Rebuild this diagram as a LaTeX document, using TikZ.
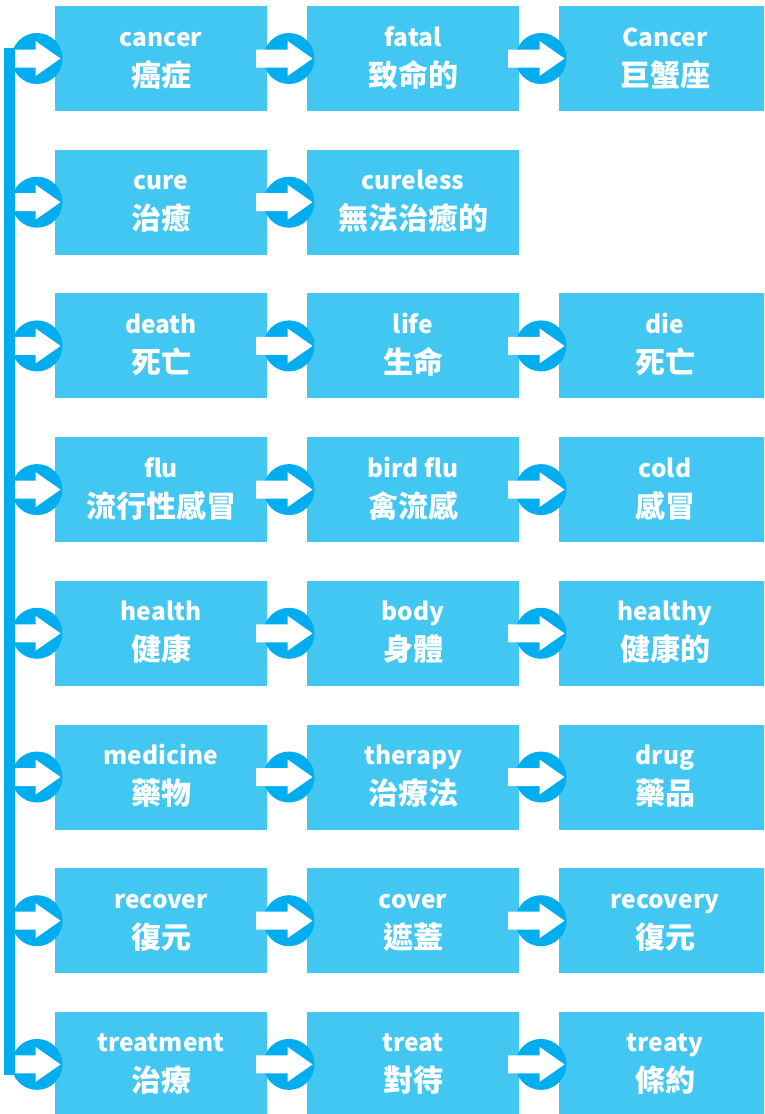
\documentclass[tikz,border=0pt]{standalone}
\usepackage{fontspec}
\setmainfont{Noto Sans CJK TC}
\usetikzlibrary{calc}

\definecolor{boxblue}{RGB}{66,199,242}
\definecolor{ringblue}{RGB}{0,173,239}

\tikzset{
    wordbox/.style={fill=boxblue, minimum width=212pt, minimum height=105pt, inner sep=0pt, outer sep=0pt},
    entext/.style={anchor=base, text=white, inner sep=0pt, font=\bfseries\fontsize{24.5}{24.5}\selectfont},
    zhtext/.style={anchor=base, text=white, inner sep=0pt, font=\bfseries\fontsize{30}{30}\selectfont},
    ring/.style={fill=ringblue},
}

% box with english word and chinese meaning
\newcommand{\vocab}[4]{%
    \node[wordbox] (#1) at (#2) {};
    \node[entext] (#1-en) at ([yshift=12.5pt]#1.center) {#3};
    \node[zhtext] (#1-zh) at ([yshift=-27.5pt]#1.center) {#4};
}

% round arrow from #1 into box #2
\newcommand{\flowarrow}[2]{%
    \coordinate (tail) at (#1);
    \coordinate (ringc) at ([xshift=-18pt]#2.west);
    \fill[ring] (ringc) circle (25.5pt);
    \fill[white] ([yshift=9pt]tail) -- ([xshift=-1.5pt,yshift=9pt]ringc)
        -- ([xshift=-1.5pt,yshift=17.5pt]ringc) -- ([xshift=23.5pt]ringc)
        -- ([xshift=-1.5pt,yshift=-17.5pt]ringc) -- ([xshift=-1.5pt,yshift=-9pt]ringc)
        -- ([yshift=-9pt]tail) -- cycle;
}

\begin{document}
\begin{tikzpicture}[x=1pt, y=1pt]
    \clip (0,0) rectangle (764,-1114);

    \vocab{cancer}{161,-58.5}{cancer}{癌症}
    \vocab{fatal}{413,-58.5}{fatal}{致命的}
    \vocab{zodiac}{665,-58.5}{Cancer}{巨蟹座}

    \vocab{cure}{161,-202.2}{cure}{治癒}
    \vocab{cureless}{413,-202.2}{cureless}{無法治癒的}

    \vocab{death}{161,-345.9}{death}{死亡}
    \vocab{life}{413,-345.9}{life}{生命}
    \vocab{die}{665,-345.9}{die}{死亡}

    \vocab{flu}{161,-489.6}{flu}{流行性感冒}
    \vocab{birdflu}{413,-489.6}{bird flu}{禽流感}
    \vocab{cold}{665,-489.6}{cold}{感冒}

    \vocab{health}{161,-633.3}{health}{健康}
    \vocab{body}{413,-633.3}{body}{身體}
    \vocab{healthy}{665,-633.3}{healthy}{健康的}

    \vocab{medicine}{161,-777}{medicine}{藥物}
    \vocab{therapy}{413,-777}{therapy}{治療法}
    \vocab{drug}{665,-777}{drug}{藥品}

    \vocab{recover}{161,-920.7}{recover}{復元}
    \vocab{cover}{413,-920.7}{cover}{遮蓋}
    \vocab{recovery}{665,-920.7}{recovery}{復元}

    \vocab{treatment}{161,-1064.4}{treatment}{治療}
    \vocab{treat}{413,-1064.4}{treat}{對待}
    \vocab{treaty}{665,-1064.4}{treaty}{條約}

    % rail on the left
    \coordinate (rail1) at (15,-58.5);
    \coordinate (rail2) at (15,-202.2);
    \coordinate (rail3) at (15,-345.9);
    \coordinate (rail4) at (15,-489.6);
    \coordinate (rail5) at (15,-633.3);
    \coordinate (rail6) at (15,-777);
    \coordinate (rail7) at (15,-920.7);
    \coordinate (rail8) at (15,-1064.4);

    \flowarrow{rail1}{cancer}
    \flowarrow{rail2}{cure}
    \flowarrow{rail3}{death}
    \flowarrow{rail4}{flu}
    \flowarrow{rail5}{health}
    \flowarrow{rail6}{medicine}
    \flowarrow{rail7}{recover}
    \flowarrow{rail8}{treatment}

    \flowarrow{[xshift=-11pt]cancer.east}{fatal}
    \flowarrow{[xshift=-11pt]fatal.east}{zodiac}
    \flowarrow{[xshift=-11pt]cure.east}{cureless}
    \flowarrow{[xshift=-11pt]death.east}{life}
    \flowarrow{[xshift=-11pt]life.east}{die}
    \flowarrow{[xshift=-11pt]flu.east}{birdflu}
    \flowarrow{[xshift=-11pt]birdflu.east}{cold}
    \flowarrow{[xshift=-11pt]health.east}{body}
    \flowarrow{[xshift=-11pt]body.east}{healthy}
    \flowarrow{[xshift=-11pt]medicine.east}{therapy}
    \flowarrow{[xshift=-11pt]therapy.east}{drug}
    \flowarrow{[xshift=-11pt]recover.east}{cover}
    \flowarrow{[xshift=-11pt]cover.east}{recovery}
    \flowarrow{[xshift=-11pt]treatment.east}{treat}
    \flowarrow{[xshift=-11pt]treat.east}{treaty}

    \fill[ring] ([xshift=-11.5pt,yshift=11pt]rail1) rectangle ([yshift=-10.5pt]rail8);
\end{tikzpicture}
\end{document}
